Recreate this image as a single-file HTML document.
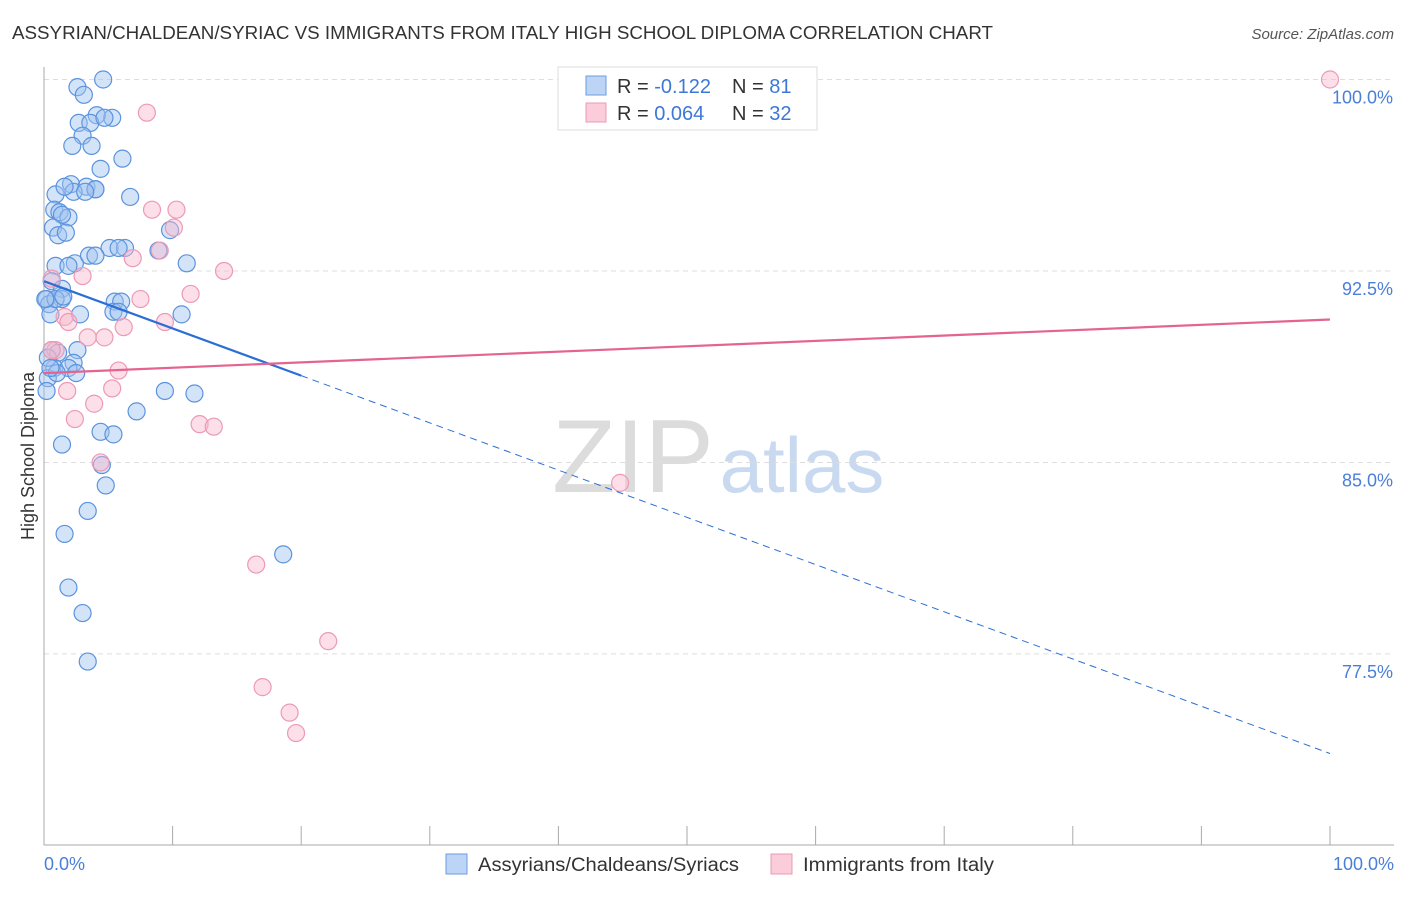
<!DOCTYPE html>
<html><head><meta charset="utf-8"><style>
body{margin:0;background:#fff;font-family:"Liberation Sans",sans-serif;}
svg text{font-family:"Liberation Sans",sans-serif;}
</style></head><body>
<svg id="chart" width="1406" height="892">
<text x="12" y="39" font-size="18" fill="#333" textLength="981" lengthAdjust="spacingAndGlyphs">ASSYRIAN/CHALDEAN/SYRIAC VS IMMIGRANTS FROM ITALY HIGH SCHOOL DIPLOMA CORRELATION CHART</text>
<text x="1394" y="39" font-size="15" fill="#555" font-style="italic" text-anchor="end">Source: ZipAtlas.com</text>
<g><text x="633" y="492" font-size="104" fill="#dcdcdc" font-family="Liberation Serif" text-anchor="middle">ZIP</text><text x="802" y="492" font-size="78" fill="#c9daf0" text-anchor="middle">atlas</text></g>
<g id="grid"></g><g id="axes"></g><g id="marks"></g>
<text transform="translate(34,456) rotate(-90)" font-size="18" fill="#333" text-anchor="middle">High School Diploma</text>
<text x="44" y="870" font-size="18" fill="#4a7fd8">0.0%</text>
<text x="1394" y="870" font-size="18" fill="#4a7fd8" text-anchor="end">100.0%</text>
<g>
<rect x="558" y="67" width="259" height="63" fill="#fff" stroke="#ddd"/>
<rect x="586" y="76" width="20" height="19" fill="#bcd4f5" stroke="#6b9de0"/>
<rect x="586" y="103" width="20" height="19" fill="#fbccd9" stroke="#eb9ab4"/>
<text x="617" y="93" font-size="20" fill="#333">R = <tspan fill="#3d78d8">-0.122</tspan><tspan x="732">N = </tspan><tspan fill="#3d78d8">81</tspan></text>
<text x="617" y="120" font-size="20" fill="#333">R = <tspan fill="#3d78d8">0.064</tspan><tspan x="732">N = </tspan><tspan fill="#3d78d8">32</tspan></text>
</g>
<g>
<rect x="446" y="854" width="21" height="20" fill="#bcd4f5" stroke="#6b9de0"/>
<text x="478" y="871" font-size="19" fill="#333" textLength="261" lengthAdjust="spacingAndGlyphs">Assyrians/Chaldeans/Syriacs</text>
<rect x="771" y="854" width="21" height="20" fill="#fbccd9" stroke="#eb9ab4"/>
<text x="803" y="871" font-size="19" fill="#333" textLength="191" lengthAdjust="spacingAndGlyphs">Immigrants from Italy</text>
</g>
</svg>
<script>
const yTicks=[100,92.5,85,77.5];
const yTickLabels=["100.0%","92.5%","85.0%","77.5%"];
const blueX=[4.6,2.6,3.1,5.3,4.1,2.7,3.6,3.0,2.2,3.7,6.1,4.4,2.1,3.3,4.0,2.3,0.9,6.7,0.8,1.2,1.9,1.4,0.7,1.1,1.7,9.8,8.9,5.1,6.3,5.8,2.4,3.5,4.0,11.1,0.9,1.9,0.6,1.4,0.2,1.4,0.4,5.5,6.0,0.5,2.8,5.4,5.8,10.7,0.6,1.1,2.6,0.8,2.3,1.9,2.5,0.3,0.2,9.4,11.7,7.2,4.4,5.4,1.4,4.5,4.8,3.4,1.6,1.9,3.0,3.4,18.6,0.9,1.0,0.3,0.5,4.0,1.6,4.7,1.5,3.2,0.1];
const blueY=[100.0,99.7,99.4,98.5,98.6,98.3,98.3,97.8,97.4,97.4,96.9,96.5,95.9,95.8,95.7,95.6,95.5,95.4,94.9,94.8,94.6,94.7,94.2,93.9,94.0,94.1,93.3,93.4,93.4,93.4,92.8,93.1,93.1,92.8,92.7,92.7,92.1,91.8,91.4,91.4,91.2,91.3,91.3,90.8,90.8,90.9,90.9,90.8,89.4,89.3,89.4,88.7,88.9,88.7,88.5,88.3,87.8,87.8,87.7,87.0,86.2,86.1,85.7,84.9,84.1,83.1,82.2,80.1,79.1,77.2,81.4,91.4,88.5,89.1,88.7,95.7,95.8,98.5,91.5,95.6,91.4];
const pinkX=[8.0,100,8.4,10.3,10.1,9.0,6.9,14.0,3.0,11.4,7.5,0.6,6.2,1.6,1.9,3.4,4.7,9.4,5.8,0.9,0.6,1.8,5.3,3.9,2.4,12.1,13.2,4.4,44.8,16.5,22.1,17.0,19.1,19.6];
const pinkY=[98.7,100,94.9,94.9,94.2,93.3,93.0,92.5,92.3,91.6,91.4,92.2,90.3,90.7,90.5,89.9,89.9,90.5,88.6,89.4,89.4,87.8,87.9,87.3,86.7,86.5,86.4,85.0,84.2,81.0,78.0,76.2,75.2,74.4];
const blueTrend=[92.1,73.6];
const pinkTrend=[88.5,90.6];
const blueSolidEnd=20;
const NS="http://www.w3.org/2000/svg";
const sx=v=>44+v*12.86;
const sy=v=>79.5+(100-v)*25.53;
function mk(t,a,p){const e=document.createElementNS(NS,t);for(const k in a)e.setAttribute(k,a[k]);p.appendChild(e);return e;}
const grid=document.getElementById('grid'),axes=document.getElementById('axes'),marks=document.getElementById('marks');
yTicks.forEach((t,i)=>{
 const l=mk('line',{x1:44,x2:1394,y1:sy(t),y2:sy(t),stroke:'#ddd','stroke-dasharray':'5,4'},grid);
 
 
 const tx=mk('text',{x:1393,y:sy(t)+24,'font-size':18,fill:'#4a7fd8','text-anchor':'end'},grid);
 tx.textContent=yTickLabels[i];
 
 
});
const ya=mk('line',{x1:44,x2:44,y1:67,y2:845,stroke:'#aaa'},axes);


const xa=mk('line',{x1:44,x2:1394,y1:845,y2:845,stroke:'#aaa'},axes);


for(let i=0;i<=10;i++){const t=mk('line',{x1:sx(i*10),x2:sx(i*10),y1:826,y2:845,stroke:'#aaa'},axes);
 
 }
blueX.forEach((x,i)=>{const c=mk('circle',{cx:sx(x),cy:sy(blueY[i]),r:8.5,fill:'rgba(160,195,240,0.45)',stroke:'#5b93de','stroke-width':1.2},marks);
 
 });
pinkX.forEach((x,i)=>{const c=mk('circle',{cx:sx(x),cy:sy(pinkY[i]),r:8.5,fill:'rgba(248,185,205,0.45)',stroke:'#ec9ab5','stroke-width':1.2},marks);
 
 });
const bAt=x=>blueTrend[0]+(blueTrend[1]-blueTrend[0])*x/100;
const b1=mk('line',{x1:sx(0),y1:sy(bAt(0)),x2:sx(blueSolidEnd),y2:sy(bAt(blueSolidEnd)),stroke:'#2b6fd6','stroke-width':2.2},marks);


const b2=mk('line',{x1:sx(blueSolidEnd),y1:sy(bAt(blueSolidEnd)),x2:sx(100),y2:sy(bAt(100)),stroke:'#2b6fd6','stroke-width':1,'stroke-dasharray':'7,5'},marks);


const p1=mk('line',{x1:sx(0),y1:sy(pinkTrend[0]),x2:sx(100),y2:sy(pinkTrend[1]),stroke:'#e5638f','stroke-width':2.2},marks);


</script>
</body></html>
